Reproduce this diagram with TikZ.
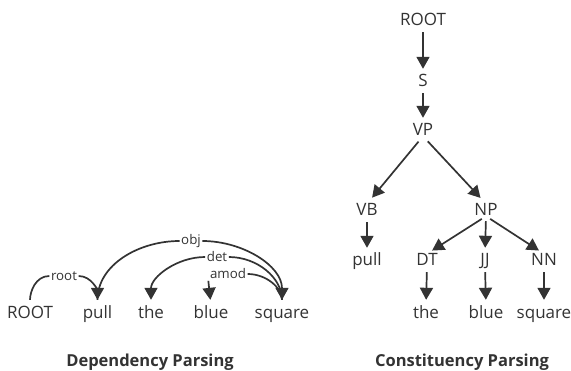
\documentclass[tikz,border=0pt]{standalone}
\usepackage{fontspec}
\setmainfont{Open Sans}
\usetikzlibrary{arrows.meta}
\definecolor{ink}{HTML}{333333}
\begin{document}
\begin{tikzpicture}[x=1pt,y=1pt,
  word/.style={inner sep=0pt, text height=12pt, text depth=0pt, font=\fontsize{17}{19}\selectfont, text=ink},
  lab/.style={inner sep=1.5pt, font=\fontsize{13.3}{15}\selectfont, text=ink},
  ttl/.style={inner sep=0pt, text height=11.5pt, text depth=0pt, font=\fontsize{16.5}{19}\selectfont\bfseries, text=ink},
  con/.style={draw=ink, line width=1.7pt},
  arr/.style={con, -{Triangle[width=13pt,length=12pt]}},
]
\useasboundingbox (0,0) rectangle (571,370);
% Dependency parsing
\node[word] (dROOT) at (30,58) {ROOT};
\node[word] (dpull) at (97.5,58) {pull};
\node[word] (dthe) at (151,58) {the};
\node[word] (dblue) at (211,58) {blue};
\node[word] (dsquare) at (282,58) {square};
\node[lab] (lroot) at (64,94) {root};
\node[lab] (lobj) at (191,129) {obj};
\node[lab] (ldet) at (217,113) {det};
\node[lab] (lamod) at (228,96) {amod};
\draw[con, shorten <=6pt] (dROOT.north) to[out=90,in=180] (lroot.west);
\draw[arr, shorten >=6pt] (lroot.east) to[out=0,in=90] (dpull.north);
\draw[con, shorten <=6pt] (dpull.north) to[out=90,in=180] (lobj.west);
\draw[arr, shorten >=6pt] (lobj.east) to[out=0,in=90] (dsquare.north);
\draw[arr, shorten >=6pt] (ldet.west) to[out=180,in=90] (dthe.north);
\draw[con, shorten >=6pt] (ldet.east) to[out=0,in=90] (dsquare.north);
\draw[con, shorten >=6pt] (lamod.east) to[out=0,in=90] (dsquare.north);
\draw[arr, shorten >=6pt] (lamod.south west) -- (dblue.north);
% Constituency parsing
\node[word] (tROOT) at (423,350) {ROOT};
\node[word] (tS) at (423,289) {S};
\node[word] (tVP) at (423,240) {VP};
\node[word] (tVB) at (367,160) {VB};
\node[word] (tNP) at (486,160) {NP};
\node[word] (tpull) at (367,110) {pull};
\node[word] (tDT) at (427,110) {DT};
\node[word] (tJJ) at (485,110) {JJ};
\node[word] (tNN) at (544,110) {NN};
\node[word] (tthe) at (426,58) {the};
\node[word] (tblue) at (486,58) {blue};
\node[word] (tsquare) at (544,58) {square};
\draw[arr, shorten <=6pt, shorten >=6pt] (tROOT.south) -- (tS.north);
\draw[arr, shorten <=6pt, shorten >=6pt] (tS.south) -- (tVP.north);
\draw[arr, shorten <=7pt, shorten >=8pt] (tVP.south) -- (tVB.north);
\draw[arr, shorten <=7pt, shorten >=8pt] (tVP.south) -- (tNP.north);
\draw[arr, shorten <=6pt, shorten >=6pt] (tVB.south) -- (tpull.north);
\draw[arr, shorten <=5pt, shorten >=6pt] (tNP.south) -- (tDT.north);
\draw[arr, shorten <=5pt, shorten >=6pt] (tNP.south) -- (tJJ.north);
\draw[arr, shorten <=5pt, shorten >=6pt] (tNP.south) -- (tNN.north);
\draw[arr, shorten <=6pt, shorten >=6pt] (tDT.south) -- (tthe.north);
\draw[arr, shorten <=6pt, shorten >=6pt] (tJJ.south) -- (tblue.north);
\draw[arr, shorten <=6pt, shorten >=6pt] (tNN.south) -- (tsquare.north);
% Titles
\node[ttl] (title1) at (150,9) {Dependency Parsing};
\node[ttl] (title2) at (462,9) {Constituency Parsing};
\end{tikzpicture}
\end{document}
